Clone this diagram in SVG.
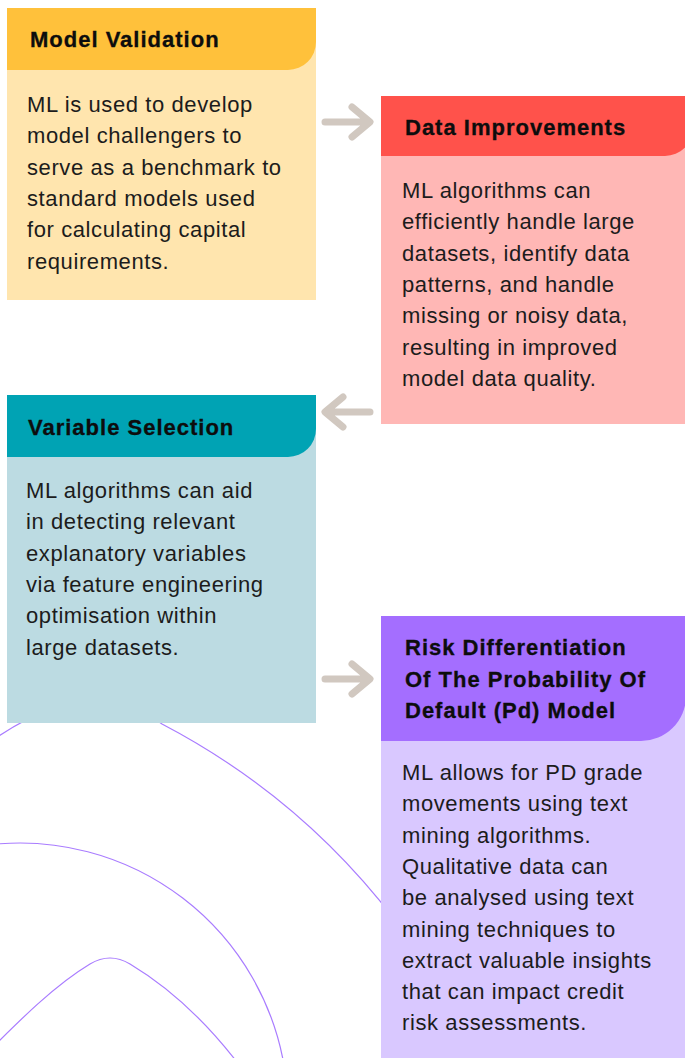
<svg xmlns="http://www.w3.org/2000/svg" width="685" height="1058" viewBox="0 0 685 1058">
  <style>
    .deco { fill: none; stroke: #A97CFF; stroke-width: 1.2; }
    .arrow { fill: none; stroke: #D1C8C0; stroke-width: 7; stroke-linecap: round; stroke-linejoin: round; }
    .title { font-family: "Liberation Sans", Arial, sans-serif; font-weight: bold; font-size: 22px; letter-spacing: 1px; fill: #0D0D0D; stroke: #0D0D0D; stroke-width: 0.3px; }
    .body { font-family: "Liberation Sans", Arial, sans-serif; font-size: 22px; letter-spacing: 0.6px; fill: #1C1C1C; }
  </style>
  <rect width="685" height="1058" fill="#FFFFFF"/>
  <g id="decoration">
    <path class="deco" d="M -10,742 Q 92,670 162,724 C 250,770 330,835 395,920"/>
    <path class="deco" d="M -10,844.7 A 268 268 0 0 1 284.8,1070"/>
    <path class="deco" d="M -10,1050 C 20,1020 55,985 90,964 Q 110,952 130,964 C 170,988 205,1020 240,1066"/>
  </g>
  <g id="node-model-validation">
    <rect x="7" y="8" width="309" height="292" fill="#FFE5AE"/>
    <path d="M 7,8 H 316 V 42 A 28 28 0 0 1 288,70 H 7 Z" fill="#FFC13B"/>
    <text class="title" x="30" y="47">Model Validation</text>
    <text class="body" x="27">
      <tspan x="27" y="112">ML is used to develop</tspan>
      <tspan x="27" y="143.3">model challengers to</tspan>
      <tspan x="27" y="174.6">serve as a benchmark to</tspan>
      <tspan x="27" y="205.9">standard models used</tspan>
      <tspan x="27" y="237.2">for calculating capital</tspan>
      <tspan x="27" y="268.5">requirements.</tspan>
    </text>
  </g>
  <g id="node-data-improvements">
    <rect x="381" y="96" width="304" height="328" fill="#FFB7B5"/>
    <path d="M 381,96 H 693 V 128 A 28 28 0 0 1 665,156 H 381 Z" fill="#FF524B"/>
    <text class="title" x="405" y="135">Data Improvements</text>
    <text class="body">
      <tspan x="402" y="198">ML algorithms can</tspan>
      <tspan x="402" y="229.3">efficiently handle large</tspan>
      <tspan x="402" y="260.6">datasets, identify data</tspan>
      <tspan x="402" y="291.9">patterns, and handle</tspan>
      <tspan x="402" y="323.2">missing or noisy data,</tspan>
      <tspan x="402" y="354.5">resulting in improved</tspan>
      <tspan x="402" y="385.8">model data quality.</tspan>
    </text>
  </g>
  <g id="node-variable-selection">
    <rect x="7" y="395" width="309" height="328" fill="#BCDBE2"/>
    <path d="M 7,395 H 316 V 429 A 28 28 0 0 1 288,457 H 7 Z" fill="#00A3B4"/>
    <text class="title" x="28" y="435">Variable Selection</text>
    <text class="body">
      <tspan x="26" y="498">ML algorithms can aid</tspan>
      <tspan x="26" y="529.3">in detecting relevant</tspan>
      <tspan x="26" y="560.6">explanatory variables</tspan>
      <tspan x="26" y="591.9">via feature engineering</tspan>
      <tspan x="26" y="623.2">optimisation within</tspan>
      <tspan x="26" y="654.5">large datasets.</tspan>
    </text>
  </g>
  <g id="node-risk-differentiation">
    <rect x="381" y="616" width="304" height="442" fill="#D9C8FF"/>
    <path d="M 381,616 H 686 V 696 A 45 45 0 0 1 641,741 H 381 Z" fill="#A46EFF"/>
    <text class="title">
      <tspan x="405" y="655">Risk Differentiation</tspan>
      <tspan x="405" y="687">Of The Probability Of</tspan>
      <tspan x="405" y="718">Default (Pd) Model</tspan>
    </text>
    <text class="body">
      <tspan x="402" y="780">ML allows for PD grade</tspan>
      <tspan x="402" y="811.3">movements using text</tspan>
      <tspan x="402" y="842.6">mining algorithms.</tspan>
      <tspan x="402" y="873.9">Qualitative data can</tspan>
      <tspan x="402" y="905.2">be analysed using text</tspan>
      <tspan x="402" y="936.5">mining techniques to</tspan>
      <tspan x="402" y="967.8">extract valuable insights</tspan>
      <tspan x="402" y="999.1">that can impact credit</tspan>
      <tspan x="402" y="1030.4">risk assessments.</tspan>
    </text>
  </g>
  <g id="connectors">
    <path class="arrow" d="M 325,122 H 369 M 352,107 L 370,122 L 352,137"/>
    <path class="arrow" d="M 370,412 H 326 M 343,397 L 325,412 L 343,427"/>
    <path class="arrow" d="M 325,679 H 369 M 352,664 L 370,679 L 352,694"/>
  </g>
</svg>
